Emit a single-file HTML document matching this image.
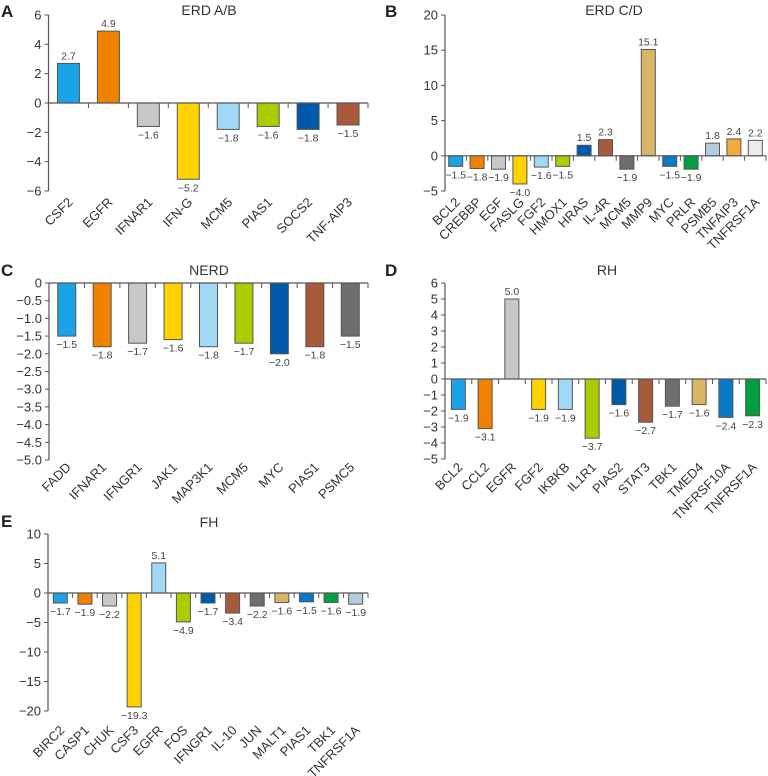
<!DOCTYPE html>
<html><head><meta charset="utf-8">
<style>
body{margin:0;background:#fff;}
svg{display:block;font-family:"Liberation Sans",sans-serif;}
</style></head>
<body>
<svg id="fig" width="768" height="776" viewBox="0 0 768 776"></svg>
<script>
const NS="http://www.w3.org/2000/svg";
const svg=document.getElementById('fig');
const PAL=["#1aa3e6","#f08200","#c8c8c8","#ffd200","#a0d8f5","#aacd00","#0058a8","#a85a3c","#6e6e6e","#d9b566","#0a7ac8","#00a040","#b4ccdc","#f5aa3c","#ececec"];

const catsA=["CSF2","EGFR","IFNAR1","IFN-G","MCM5","PIAS1","SOCS2","TNF-AIP3"];
const valsA=[2.7,4.9,-1.6,-5.2,-1.8,-1.6,-1.8,-1.5];
const ticksA=[6,4,2,0,-2,-4,-6];

const catsB=["BCL2","CREBBP","EGF","FASLG","FGF2","HMOX1","HRAS","IL-4R","MCM5","MMP9","MYC","PRLR","PSMB5","TNFAIP3","TNFRSF1A"];
const valsB=[-1.5,-1.8,-1.9,-4.0,-1.6,-1.5,1.5,2.3,-1.9,15.1,-1.5,-1.9,1.8,2.4,2.2];
const ticksB=[20,15,10,5,0,-5];

const catsC=["FADD","IFNAR1","IFNGR1","JAK1","MAP3K1","MCM5","MYC","PIAS1","PSMC5"];
const valsC=[-1.5,-1.8,-1.7,-1.6,-1.8,-1.7,-2.0,-1.8,-1.5];
const ticksC=[0,-0.5,-1.0,-1.5,-2.0,-2.5,-3.0,-3.5,-4.0,-4.5,-5.0];

const catsD=["BCL2","CCL2","EGFR","FGF2","IKBKB","IL1R1","PIAS2","STAT3","TBK1","TMED4","TNFRSF10A","TNFRSF1A"];
const valsD=[-1.9,-3.1,5.0,-1.9,-1.9,-3.7,-1.6,-2.7,-1.7,-1.6,-2.4,-2.3];
const ticksD=[6,5,4,3,2,1,0,-1,-2,-3,-4,-5];

const catsE=["BIRC2","CASP1","CHUK","CSF3","EGFR","FOS","IFNGR1","IL-10","JUN","MALT1","PIAS1","TBK1","TNFRSF1A"];
const valsE=[-1.7,-1.9,-2.2,-19.3,5.1,-4.9,-1.7,-3.4,-2.2,-1.6,-1.5,-1.6,-1.9];
const ticksE=[10,5,0,-5,-10,-15,-20];

function el(tag,attrs,parent,text){
  const e=document.createElementNS(NS,tag);
  for(const k in attrs)e.setAttribute(k,attrs[k]);
  if(text!==undefined)e.textContent=text;
  (parent||svg).appendChild(e);return e;
}
function fmt(v,dec){if(v===0)return "0";return (v<0?"\u2212":"")+Math.abs(v).toFixed(dec);}

function panel(o){
  const g=el('g',{});
  
  
  const ymax=o.ticks[0],ymin=o.ticks[o.ticks.length-1];
  const y=v=>o.yTop+(ymax-v)/(ymax-ymin)*(o.yBot-o.yTop);
  const bw=(o.xEnd-o.x0)/o.cats.length;
  const cx=i=>o.x0+(i+0.5)*bw;
  const L=el('text',{x:o.lx,y:o.ly,'font-size':17,'font-weight':'bold',fill:'#222'},g,o.letter);
  
  
  const T=el('text',{x:o.tx,y:o.ty,'font-size':14,'text-anchor':'middle',fill:'#333'},g,o.title);
  
  
  o.vals.forEach((v,i)=>{
    const y0=y(0),yv=y(v);
    const r=el('rect',{x:cx(i)-o.barW/2,y:Math.min(y0,yv),width:o.barW,height:Math.abs(yv-y0),fill:PAL[i],stroke:'#555','stroke-width':1},g);
    
    
    const t=el('text',{x:cx(i),y:v>=0?yv-4:yv+12,'font-size':10.5,'text-anchor':'middle',fill:'#444'},g,fmt(v,1));
    
    
  });
  const ax=el('line',{x1:o.x0,y1:y(0),x2:o.xEnd,y2:y(0),stroke:'#555','stroke-width':1.2},g);
  
  
  for(let i=1;i<=o.cats.length;i++){
    el('line',{x1:o.x0+i*bw,y1:y(0),x2:o.x0+i*bw,y2:y(0)+5,stroke:'#555','stroke-width':1},g);
  }
  const yax=el('line',{x1:o.x0,y1:o.yTop,x2:o.x0,y2:o.yBot,stroke:'#555','stroke-width':1.2},g);
  
  
  o.ticks.forEach(tv=>{
    el('line',{x1:o.x0-4,y1:y(tv),x2:o.x0,y2:y(tv),stroke:'#555','stroke-width':1},g);
    const t=el('text',{x:o.x0-7,y:y(tv)+4.5,'font-size':13,'text-anchor':'end',fill:'#333'},g,fmt(tv,o.dec));
    
    
  });
  o.cats.forEach((c,i)=>{
    const px=cx(i)+5,py=o.yBot+o.labOff;
    const t=el('text',{x:px,y:py,'font-size':13,'text-anchor':'end',fill:'#333',transform:`rotate(-45 ${px} ${py})`},g,c);
    
    
  });
}

panel({letter:'A',lx:1,ly:17,title:'ERD A/B',tx:209,ty:15,cats:catsA,vals:valsA,ticks:ticksA,dec:0,x0:48.5,xEnd:368,yTop:15,yBot:191,barW:22,labOff:12});
panel({letter:'B',lx:385,ly:17,title:'ERD C/D',tx:614,ty:15,cats:catsB,vals:valsB,ticks:ticksB,dec:0,x0:445,xEnd:766,yTop:15,yBot:191,barW:14,labOff:12});
panel({letter:'C',lx:1,ly:276,title:'NERD',tx:209,ty:275,cats:catsC,vals:valsC,ticks:ticksC,dec:1,x0:49,xEnd:368,yTop:283,yBot:460,barW:18,labOff:8});
panel({letter:'D',lx:385,ly:276,title:'RH',tx:607,ty:275,cats:catsD,vals:valsD,ticks:ticksD,dec:0,x0:445,xEnd:766,yTop:283,yBot:459,barW:14,labOff:9});
panel({letter:'E',lx:1,ly:527,title:'FH',tx:209,ty:527,cats:catsE,vals:valsE,ticks:ticksE,dec:0,x0:48,xEnd:368,yTop:534,yBot:711,barW:14,labOff:20});
</script>
</body></html>
